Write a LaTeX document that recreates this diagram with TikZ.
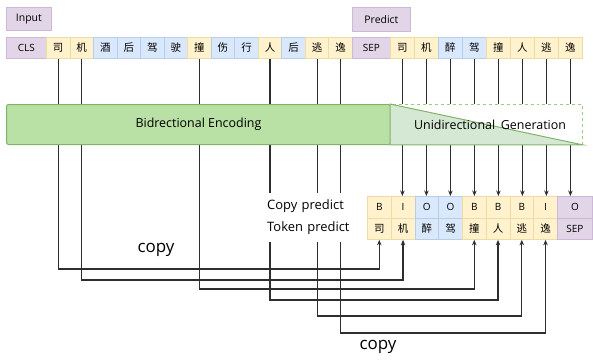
\documentclass[tikz,border=0pt]{standalone}
\usepackage{fontspec}
\setmainfont{Open Sans}
\newfontfamily\cjk{Noto Sans CJK SC}
\usetikzlibrary{arrows.meta}

\definecolor{yfill}{HTML}{FFF2CC}
\definecolor{yline}{HTML}{EEDCA6}
\definecolor{bfill}{HTML}{DAE8FC}
\definecolor{bline}{HTML}{B8CDEA}
\definecolor{pfill}{HTML}{E1D5E7}
\definecolor{pline}{HTML}{CDB8D8}
\definecolor{gfill}{HTML}{B9E0A5}
\definecolor{gline}{HTML}{82B366}
\definecolor{gtri}{HTML}{D5E8D4}
\definecolor{gdash}{HTML}{97D077}
\definecolor{wire}{HTML}{2E2E2E}

\tikzset{
  cell/.style={draw, line width=0.8bp, minimum height=21bp, inner sep=0pt,
    anchor=north west, font=\cjk\fontsize{10.5}{12}\selectfont},
  ycell/.style={cell, fill=yfill, draw=yline, minimum width=23.54bp},
  bcell/.style={cell, fill=bfill, draw=bline, minimum width=23.54bp},
  pcell/.style={cell, fill=pfill, draw=pline, font=\fontsize{10}{12}\selectfont},
  link/.style={draw=wire, line width=1.2bp, -{Stealth[length=5.5bp,width=4.5bp]}},
  tag/.style={draw=pline, fill=pfill, line width=0.8bp, inner sep=0pt,
    anchor=north west, font=\fontsize{10.5}{12}\selectfont},
}

\begin{document}
\begin{tikzpicture}[x=1bp, y=-1bp]
\useasboundingbox (0,0) rectangle (593,361);

% labels above the two rows
\node[tag, minimum width=45bp, minimum height=23bp] (intag) at (6,7) {Input};
\node[tag, minimum width=58bp, minimum height=24bp] (predtag) at (352,7) {Predict};

% input sequence
\node[pcell, minimum width=40bp] (cls) at (6,37) {CLS};
\foreach \t/\s [count=\i] in {司/ycell,机/ycell,酒/bcell,后/bcell,驾/bcell,驶/bcell,
    撞/ycell,伤/bcell,行/bcell,人/ycell,后/bcell,逃/ycell,逸/ycell}
  \node[\s] (in\i) at ({46+(\i-1)*23.54},37) {\t};

% predicted sequence
\node[pcell, minimum width=38bp] (sep) at (352,37) {SEP};
\foreach \t/\s [count=\i] in {司/ycell,机/ycell,醉/bcell,驾/bcell,撞/ycell,人/ycell,逃/ycell,逸/ycell}
  \node[\s, minimum width=24bp] (p\i) at ({390+(\i-1)*24},37) {\t};

% output table: copy tags and tokens
\foreach \t/\s [count=\i] in {B/ycell,I/ycell,O/bcell,O/bcell,B/ycell,B/ycell,B/ycell,I/ycell}
  \node[\s, minimum width=23.75bp, minimum height=21.5bp, font=\fontsize{10}{12}\selectfont]
    (oc\i) at ({367+(\i-1)*23.75},196) {\t};
\node[pcell, minimum width=35bp, minimum height=21.5bp] (oc9) at (557,196) {O};
\foreach \t/\s [count=\i] in {司/ycell,机/ycell,醉/bcell,驾/bcell,撞/ycell,人/ycell,逃/ycell,逸/ycell}
  \node[\s, minimum width=23.75bp, minimum height=21.5bp] (ot\i) at ({367+(\i-1)*23.75},217.5) {\t};
\node[pcell, minimum width=35bp, minimum height=21.5bp] (ot9) at (557,217.5) {SEP};

% copy links from the input tokens to the output tokens
\draw[link] (in1.south)  -- (in1.south |- 0,269)  -| (ot1.south);
\draw[link] (in2.south)  -- (in2.south |- 0,280)  -| (ot2.south);
\draw[link] (in7.south)  -- (in7.south |- 0,289)  -| (ot5.south);
\draw[link] (in10.south) -- (in10.south |- 0,300) -| (ot6.south);
\draw[link] (in12.south) -- (in12.south |- 0,316) -| (ot7.south);
\draw[link] (in13.south) -- (in13.south |- 0,333) -| (ot8.south);

% generation links from the predicted tokens to the copy tags
\foreach \i [evaluate=\i as \j using int(\i+1)] in {1,...,8}
  \draw[link] (p\i.south) -- (p\i.south |- oc\j.north);

% encoder / decoder band
\node[draw=gline, fill=gfill, line width=1bp, rounded corners=1.5bp,
  minimum width=384bp, minimum height=40bp, anchor=north west,
  font=\fontsize{12.5}{14}\selectfont] (enc) at (6,104) {Bidrectional Encoding};
\node[draw=gdash, fill=white, dashed, line width=0.9bp, minimum width=192bp,
  minimum height=40bp, anchor=north west, inner sep=0pt] (gen) at (390,104) {};
\draw[fill=gtri, draw=gline, line width=1bp]
  (gen.north west) -- (gen.south east) -- (gen.south west) -- cycle;
\node[font=\fontsize{12.5}{14}\selectfont] (gentext) at (490,125)
  {Unidirectional\hspace{0.45em}Generation};

% row captions of the output table, on a white panel over the wires
\node[fill=white, anchor=west, align=left, text width=87bp, inner xsep=3bp,
  inner ysep=0pt, minimum height=49bp,
  font=\fontsize{13}{22}\selectfont] (rowcap) at (264,217)
  {Copy predict\\Token predict};

% edge captions
\node[font=\fontsize{17}{19}\selectfont] (copya) at (156,250) {copy};
\node[font=\fontsize{17}{19}\selectfont] (copyb) at (378,347) {copy};
\end{tikzpicture}
\end{document}
